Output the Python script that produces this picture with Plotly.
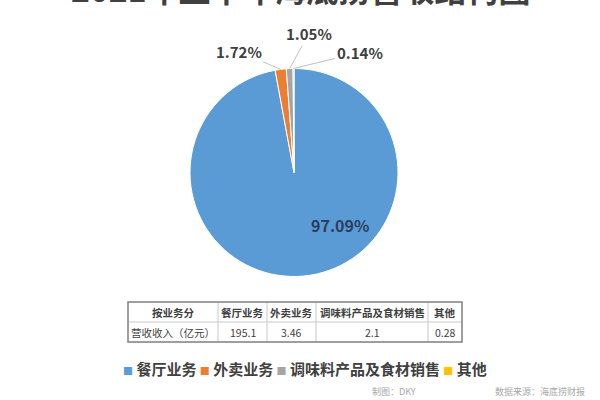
import math
import plotly.graph_objects as go

# ---- data ----
categories = ["餐厅业务", "外卖业务", "调味料产品及食材销售", "其他"]
revenue = [195.1, 3.46, 2.1, 0.28]
colors = ["#5B9BD5", "#ED7D31", "#A5A5A5", "#FFC000"]
table_head = ["按业务分"] + categories
table_row_label = "营收收入（亿元）"
title_text = "2021年上半年海底捞营收结构图"
credit_text = "制图：DKY"
source_text = "数据来源：海底捞财报"

# ---- layout constants (pixels) ----
W, H = 600, 400
cx, cy, R = 294, 172.5, 104
FONT = "Noto Sans CJK SC, Noto Sans, sans-serif"
col_edges = [128, 218, 267, 316, 428, 462]
row_edges = [302, 322, 342]


def px(x):
    return x / W


def py(y):
    return 1 - y / H


def note(x, y, text, size, color, **kw):
    d = dict(x=px(x), y=py(y), xref="paper", yref="paper", text=text,
             showarrow=False, xanchor="center", yanchor="middle",
             font=dict(family=FONT, size=size, color=color))
    d.update(kw)
    return d


fig = go.Figure()

fig.add_trace(go.Pie(
    labels=categories,
    values=revenue,
    sort=False,
    direction="clockwise",
    rotation=0,
    textinfo="none",
    showlegend=False,
    marker=dict(colors=colors, line=dict(color="white", width=1)),
    domain=dict(x=[px(cx - R), px(cx + R)], y=[py(cy + R), py(cy - R)]),
))

annotations = []
shapes = []

# ---- table built from shapes + text ----
table_rows = [
    [f"<b>{h}</b>" for h in table_head],
    [table_row_label] + [str(v) for v in revenue],
]
for xe in col_edges[1:-1]:
    shapes.append(dict(type="line", xref="paper", yref="paper",
                       x0=px(xe), x1=px(xe), y0=py(row_edges[0]), y1=py(row_edges[-1]),
                       line=dict(color="#C8C8C8", width=1)))
for ye in row_edges[1:-1]:
    shapes.append(dict(type="line", xref="paper", yref="paper",
                       x0=px(col_edges[0]), x1=px(col_edges[-1]), y0=py(ye), y1=py(ye),
                       line=dict(color="#C8C8C8", width=1)))
shapes.append(dict(type="rect", xref="paper", yref="paper",
                   x0=px(col_edges[0]), x1=px(col_edges[-1]),
                   y0=py(row_edges[-1]), y1=py(row_edges[0]),
                   line=dict(color="#7F7F7F", width=1.5)))
for r, row in enumerate(table_rows):
    yc = (row_edges[r] + row_edges[r + 1]) / 2
    for c, txt in enumerate(row):
        xc = (col_edges[c] + col_edges[c + 1]) / 2
        annotations.append(note(xc, yc, txt, 10.5, "#404040"))

# ---- percentage labels ----
total = sum(revenue)
offsets = [None, (-42, -18), (19, -35), (66, -16)]
cum = 0.0
for i, v in enumerate(revenue):
    mid = (cum + v / 2) / total * 2 * math.pi
    cum += v
    pct = f"{v / total * 100:.2f}%"
    if i == 0:
        annotations.append(note(340, 225, f"<b>{pct}</b>", 16, "#2A3F5F"))
    else:
        hx = cx + R * math.sin(mid)
        hy = cy - R * math.cos(mid)
        ax, ay = offsets[i]
        annotations.append(dict(
            x=px(hx), y=py(hy), xref="paper", yref="paper",
            text=f"<b>{pct}</b>", showarrow=True, arrowhead=0,
            arrowwidth=1, arrowcolor="#C0C0C0", ax=ax, ay=ay, standoff=0,
            font=dict(family=FONT, size=15, color="#404040"),
        ))

# ---- legend (single centered line) ----
legend_txt = " ".join(
    f"<span style='color:{c};font-size:10px'>■</span> <b>{cat}</b>"
    for cat, c in zip(categories, colors)
)
annotations.append(note(305, 368, legend_txt, 15, "#404040"))

# ---- title (cut at the top of the image) ----
annotations.append(note(301, -12, f"<b>{title_text}</b>", 32, "#404040"))

# ---- footer ----
annotations.append(note(394, 391, credit_text, 9, "#A8A8A8"))
annotations.append(note(540, 391, source_text, 9, "#A8A8A8"))

fig.update_layout(
    width=W, height=H,
    margin=dict(l=0, r=0, t=0, b=0),
    paper_bgcolor="white", plot_bgcolor="white",
    annotations=annotations, shapes=shapes,
    font=dict(family=FONT),
    modebar=dict(bgcolor="rgba(0,0,0,0)", color="rgba(0,0,0,0)",
                 activecolor="rgba(0,0,0,0)"),
)

fig.write_html(
    "out.html",
    post_script=(
        "document.body.style.margin='0';document.body.style.overflow='hidden';"
        "var s=document.createElement('style');"
        "s.textContent='.modebar-container{display:none !important;}';"
        "document.head.appendChild(s);"
    ),
)
